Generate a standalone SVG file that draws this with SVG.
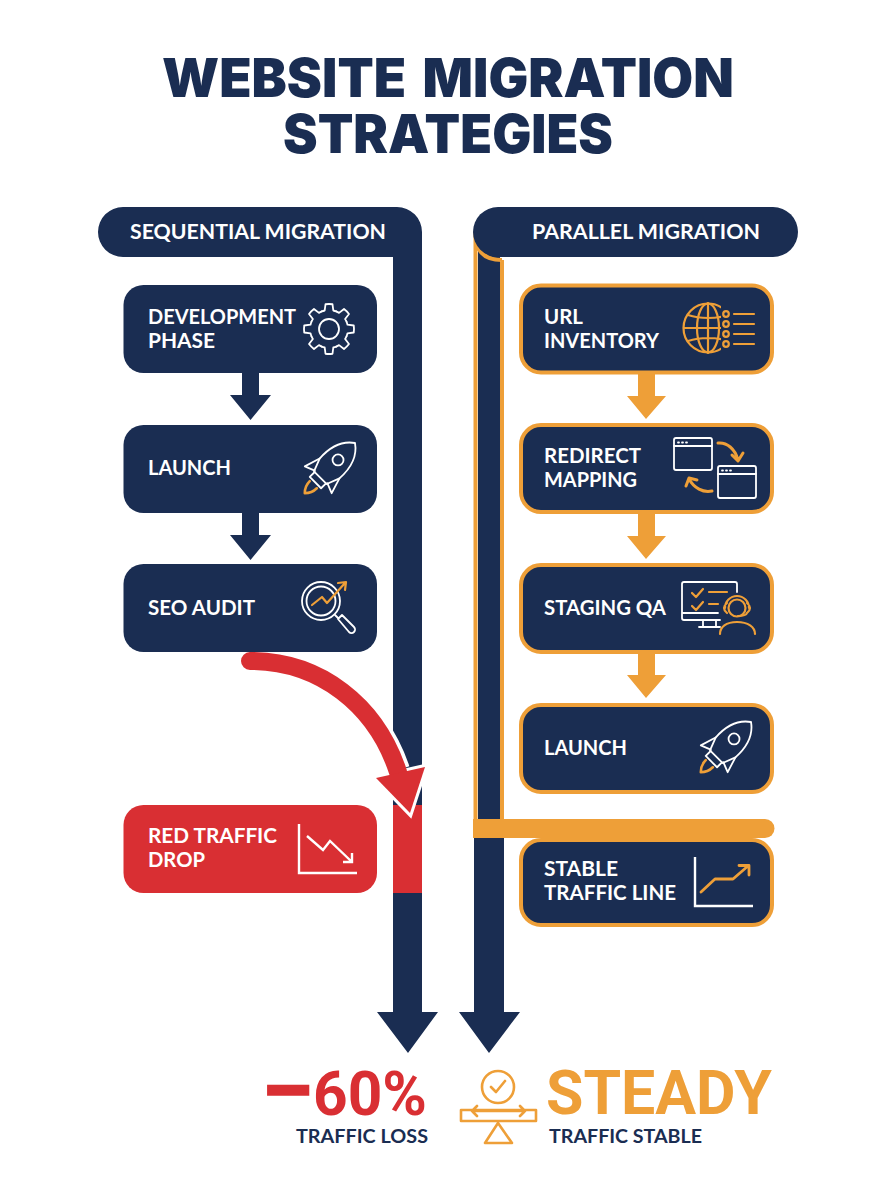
<svg xmlns="http://www.w3.org/2000/svg" xmlns:xlink="http://www.w3.org/1999/xlink" width="896" height="1200" viewBox="0 0 896 1200">
<style>
text{font-family:"Lato","Open Sans","Liberation Sans",sans-serif;font-weight:700;fill:#fff;font-size:21px}
.title{font-family:"Inter","Liberation Sans",sans-serif;font-weight:900;fill:#1a2d52;font-size:53.500px;word-spacing:6px}
.big{font-family:"Roboto","Liberation Sans",sans-serif;font-weight:700;font-size:61px}
.sub{fill:#1a2d52;font-size:19px}
.n{fill:#1a2d52}
.o{fill:#1a2d52;stroke:#ee9f38;stroke-width:4}
.w{fill:none;stroke:#fff;stroke-width:1.800;stroke-linecap:round;stroke-linejoin:round}
.a{fill:none;stroke:#ee9f38;stroke-width:2.200;stroke-linecap:round;stroke-linejoin:round}
.wt{fill:none;stroke:#fff;stroke-width:2.400;stroke-linecap:butt;stroke-linejoin:miter}
</style>
<defs>
<path id="tooth" d="M-7.27-17.55A19 19 0 0 1-4.3-18.5L-3.5-24.75A25 25 0 0 1 3.5-24.75L4.3-18.5A19 19 0 0 1 7.27-17.55"/>
<g id="rocket">
<path class="w" d="M0 0C-10 7-15 20-14 36L-9 49H9L14 36C15 20 10 7 0 0Z"/>
<circle class="w" cx="0" cy="24" r="5.500"/>
<path class="w" d="M-8 49V56H8V49"/>
<path class="w" d="M-14 36L-19 52L-9 48"/>
<path class="w" d="M14 36L19 52L9 48"/>
<path class="a" style="stroke-width:2.600" d="M-5 59Q-5 66 0 71Q5 66 5 59"/>
</g>
<clipPath id="gc"><rect x="680" y="300" width="41" height="60"/></clipPath>
</defs>

<text class="title" x="162" y="97" textLength="572" lengthAdjust="spacingAndGlyphs">WEBSITE MIGRATION</text>
<text class="title" x="283" y="153" textLength="330" lengthAdjust="spacingAndGlyphs">STRATEGIES</text>

<g id="connectors">
<path class="n" d="M123 207H397A25 25 0 0 1 422 232V1012H438L408 1053L377 1012H393V257H123A25 25 0 0 1 123 207Z"/>
<rect x="393" y="805" width="29" height="88" fill="#d92f33"/>
<path class="n" d="M478 250H500V820H478Z"/>
<path fill="none" stroke="#ee9f38" stroke-width="4" d="M475.500 232V820M502 260V820M476 240C478 254 488 260 502 260"/>
<path class="n" d="M474 838H504V1012H520L489 1053L459 1012H474Z"/>
<path class="n" d="M498 207H773A25 25 0 0 1 773 257H498A25 25 0 0 1 498 207Z"/>
<path fill="#ee9f38" d="M473 819H765A9.500 9.500 0 0 1 765 838H473Z"/>
<path class="n" d="M242 373H259V395H271L250.500 420L230 395H242Z"/>
<path class="n" d="M242 513H259V535H271L250.500 560L230 535H242Z"/>
<path fill="#ee9f38" d="M638 374H655V396H666L646 419L627 396H638Z"/>
<path fill="#ee9f38" d="M638 514H655V536H666L646 559L627 536H638Z"/>
<path fill="#ee9f38" d="M638 653H655V675H666L646 698L627 675H638Z"/>
<g id="red-arrow">
<path fill="none" stroke="#fff" stroke-width="24" d="M262 661C320 664 376 705 398 770"/>
<path fill="#fff" stroke="#fff" stroke-width="6" stroke-linejoin="miter" d="M425 767L376 778L410 813Z"/>
<path fill="none" stroke="#d92f33" stroke-width="18" stroke-linecap="round" d="M250 661C320 661 376 705 398 772"/>
<path fill="#d92f33" d="M425 767L376 778L410 813Z"/>
<rect x="240" y="640" width="30" height="12" class="n"/>
</g>
</g>

<g id="header-sequential"><text x="130" y="239" textLength="256" lengthAdjust="spacingAndGlyphs">SEQUENTIAL MIGRATION</text></g>
<g id="header-parallel"><text x="532" y="239" textLength="228" lengthAdjust="spacingAndGlyphs">PARALLEL MIGRATION</text></g>

<g id="node-development"><rect class="n" x="123.500" y="285" width="253.500" height="88" rx="20"/>
<text x="148" y="324" textLength="148" lengthAdjust="spacingAndGlyphs">DEVELOPMENT</text><text x="148" y="348" textLength="67" lengthAdjust="spacingAndGlyphs">PHASE</text>
<g class="w" transform="translate(329 329)"><circle r="10"/><use xlink:href="#tooth"/><use xlink:href="#tooth" transform="rotate(45)"/><use xlink:href="#tooth" transform="rotate(90)"/><use xlink:href="#tooth" transform="rotate(135)"/><use xlink:href="#tooth" transform="rotate(180)"/><use xlink:href="#tooth" transform="rotate(225)"/><use xlink:href="#tooth" transform="rotate(270)"/><use xlink:href="#tooth" transform="rotate(315)"/></g></g>

<g id="node-launch-a"><rect class="n" x="123.500" y="425" width="253.500" height="88" rx="20"/>
<text x="148" y="475" textLength="83" lengthAdjust="spacingAndGlyphs">LAUNCH</text>
<use xlink:href="#rocket" transform="translate(355 443) rotate(45)"/></g>

<g id="node-seo"><rect class="n" x="123.500" y="564" width="253.500" height="88" rx="20"/>
<text x="148" y="615" textLength="107" lengthAdjust="spacingAndGlyphs">SEO AUDIT</text>
<circle class="w" cx="321" cy="601" r="19"/><circle class="w" cx="321" cy="601" r="14.500"/>
<path class="w" d="M335 615L338 618M338 619L342 615L354 627A3.500 3.500 0 0 1 349 632Z"/>
<path class="a" d="M312 605L322 597L327 603L345 583M338 583L346 582L345 590"/></g>

<g id="node-red"><rect fill="#d92f33" x="123.500" y="805" width="253.500" height="88" rx="20"/>
<text x="148" y="843" textLength="129" lengthAdjust="spacingAndGlyphs">RED TRAFFIC</text><text x="148" y="867" textLength="57" lengthAdjust="spacingAndGlyphs">DROP</text>
<path class="wt" d="M299 824V873H357M307 836L323 850L330 841L352 862M343 862H352V853"/></g>

<g id="node-url"><rect class="o" x="521" y="285.500" width="251" height="87" rx="20"/>
<text x="544" y="324" textLength="39" lengthAdjust="spacingAndGlyphs">URL</text><text x="544" y="348" textLength="115" lengthAdjust="spacingAndGlyphs">INVENTORY</text>
<g class="a" clip-path="url(#gc)"><circle cx="708" cy="328" r="24.500"/><ellipse cx="708" cy="328" rx="11" ry="24.500"/><path d="M708 303V353M684 328H732M688 315C700 319 716 319 728 315M688 341C700 337 716 337 728 341"/></g>
<g class="a"><circle cx="726" cy="314" r="2.800"/><circle cx="726" cy="324" r="2.800"/><circle cx="726" cy="334" r="2.800"/><circle cx="726" cy="344" r="2.800"/><path d="M734 314H754M734 324H754M734 334H754M734 344H754"/></g></g>

<g id="node-redirect"><rect class="o" x="521" y="425" width="251" height="87" rx="20"/>
<text x="544" y="463" textLength="97" lengthAdjust="spacingAndGlyphs">REDIRECT</text><text x="544" y="487" textLength="93" lengthAdjust="spacingAndGlyphs">MAPPING</text>
<rect class="w" x="674" y="438" width="38" height="32" rx="2"/><path class="w" d="M674 446H712"/><rect class="w" x="718" y="466" width="38" height="32" rx="2"/><path class="w" d="M718 474H756"/>
<path class="w" stroke-dasharray="1 3" d="M678 442.500H688M722 470.500H732"/>
<path class="a" style="stroke-width:3" d="M718 443C727 442 735 449 738 460M732 455L738 461L743 453M712 491C703 493 694 488 689 479M686 486L689 478L697 480"/></g>

<g id="node-qa"><rect class="o" x="521" y="565" width="251" height="87" rx="20"/>
<text x="544" y="615" textLength="122" lengthAdjust="spacingAndGlyphs">STAGING QA</text>
<path class="w" d="M720 620H684Q682 620 682 618V584Q682 582 684 582H735Q737 582 737 584V592M682 613H718M703 620V627M716 620V627M699 627H720"/>
<path class="a" d="M692 593L696 597L703 589M692 606L696 610L703 602M709 592H727M709 604H718"/>
<circle class="a" cx="737" cy="608" r="8.500"/>
<path class="a" d="M725 608A12 12 0 0 1 749 608M727 603Q721 608 727 613M747 603Q753 608 747 613M747 613Q746 616 738 616M720 634C720 627 726 622 737 622C748 622 755 627 755 634"/></g>

<g id="node-launch-b"><rect class="o" x="521" y="705" width="251" height="87" rx="20"/>
<text x="544" y="755" textLength="83" lengthAdjust="spacingAndGlyphs">LAUNCH</text>
<use xlink:href="#rocket" transform="translate(751 722) rotate(45)"/></g>

<g id="node-stable"><rect class="o" x="521" y="840" width="251" height="85" rx="20"/>
<text x="544" y="876" textLength="74" lengthAdjust="spacingAndGlyphs">STABLE</text><text x="544" y="900" textLength="132" lengthAdjust="spacingAndGlyphs">TRAFFIC LINE</text>
<path class="wt" d="M695 857V906H753"/><path class="a" style="stroke-width:2.800" d="M701 892L715 879H733L748 866M739 865.500H749V875"/></g>

<g id="outcome-loss">
<text class="big" style="fill:#d92f33" x="260" y="1115"><tspan x="260" dy="10" font-size="100">−</tspan><tspan x="313" dy="-10" textLength="114" lengthAdjust="spacingAndGlyphs">60%</tspan></text>
<text class="sub" x="296" y="1143" textLength="132" lengthAdjust="spacingAndGlyphs">TRAFFIC LOSS</text>
</g>
<g id="outcome-steady">
<g class="a" style="stroke-width:2.600"><circle cx="498" cy="1087" r="16"/><path d="M491 1087L496 1092L505 1081M461 1110H536V1121H461ZM472 1111H525M477 1106L472 1111L477 1116M520 1106L525 1111L520 1116M498 1123L485 1143H512Z"/></g>
<text class="big" style="fill:#ee9f38" x="546" y="1114" textLength="226" lengthAdjust="spacingAndGlyphs">STEADY</text>
<text class="sub" x="549" y="1143" textLength="153" lengthAdjust="spacingAndGlyphs">TRAFFIC STABLE</text>
</g>
</svg>
